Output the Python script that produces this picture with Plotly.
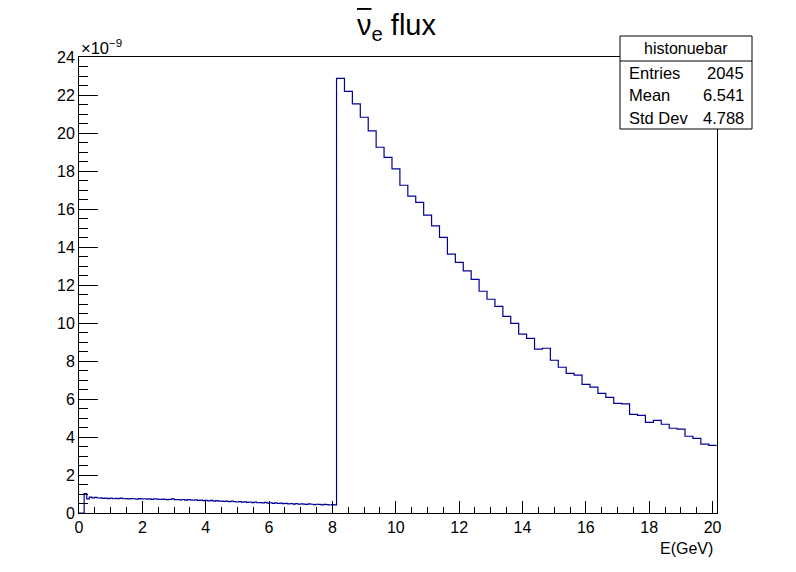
import numpy as np
import plotly.graph_objects as go

# ---------------- data (flux in units of 1e-9) ----------------
low_range = (0.0, 8.13)          # GeV, fine-binned part
low_values = [
    0, 0, 1.02, 0.74, 0.84, 0.80, 0.82, 0.79, 0.80, 0.77,
    0.78, 0.76, 0.78, 0.75, 0.77, 0.76, 0.78, 0.75, 0.76, 0.74,
    0.76, 0.75, 0.73, 0.76, 0.74, 0.75, 0.73, 0.74, 0.72, 0.75,
    0.73, 0.71, 0.73, 0.72, 0.70, 0.72, 0.74, 0.70, 0.71, 0.69,
    0.71, 0.68, 0.70, 0.69, 0.67, 0.69, 0.66, 0.68, 0.65, 0.66,
    0.64, 0.66, 0.63, 0.65, 0.62, 0.63, 0.61, 0.63, 0.60, 0.62,
    0.60, 0.58, 0.60, 0.57, 0.59, 0.56, 0.58, 0.55, 0.57, 0.54,
    0.55, 0.53, 0.56, 0.52, 0.54, 0.51, 0.53, 0.50, 0.52, 0.49,
    0.51, 0.48, 0.50, 0.47, 0.49, 0.46, 0.48, 0.47, 0.45, 0.48,
    0.46, 0.44, 0.46, 0.45, 0.43, 0.45, 0.44, 0.42, 0.44, 0.43,
]
high_start = 8.13               # GeV
high_bin_width = 0.25           # GeV
high_values = [
    22.88, 22.19, 21.53, 20.83, 20.11, 19.25, 18.72, 18.11, 17.25, 16.68,
    16.35, 15.68, 15.11, 14.51, 13.63, 13.19, 12.74, 12.30, 11.67, 11.25,
    10.88, 10.35, 9.98, 9.41, 9.19, 8.63, 8.67, 8.04, 7.67, 7.35,
    7.26, 6.77, 6.63, 6.30, 6.09, 5.77, 5.74, 5.19, 5.14, 4.77,
    4.88, 4.67, 4.46, 4.41, 4.04, 3.93, 3.63, 3.56,
]
stats_name = "histonuebar"
stats_labels = ["Entries", "Mean", "Std Dev"]
stats_values = ["2045", "6.541", "4.788"]
x_max = 20.14
y_max = 24

# ---------------- build step outline ----------------
low_edges = np.linspace(low_range[0], low_range[1], len(low_values) + 1)
high_edges = high_start + high_bin_width * np.arange(len(high_values) + 1)
edges = np.concatenate([low_edges[:-1], high_edges])
vals = np.array(low_values + high_values, dtype=float)
ys = np.append(vals, vals[-1])

FONT = "Liberation Sans, Arial, Helvetica, sans-serif"
BLUE = "#000099"

fig = go.Figure()
fig.add_trace(go.Scatter(x=edges, y=ys, mode="lines", line_shape="hv",
                         line=dict(color=BLUE, width=1.2), hoverinfo="skip",
                         showlegend=False))

# page body has an 8px margin: work in screen px, shifted by OFF
OFF = 8
W, H = 796 - OFF, 572 - OFF
L, R, T, B = 79, 717, 57, 513          # screen px of the frame


def fx(p):
    return (p - L) / (R - L)


def fy(p):
    return (B - p) / (B - T)


fig.update_layout(
    width=W, height=H,
    margin=dict(l=L - OFF, r=W - (R - OFF), t=T - OFF, b=H - (B - OFF)),
    paper_bgcolor="white", plot_bgcolor="white",
    font=dict(family=FONT, size=16, color="black"),
    showlegend=False,
)
fig.update_xaxes(range=[0, x_max], showgrid=False, zeroline=False,
                 showline=True, linecolor="black", linewidth=1, mirror=True,
                 ticks="inside", ticklen=12, tickcolor="black", dtick=2, tick0=0,
                 tickfont=dict(size=16, family=FONT),
                 minor=dict(ticks="inside", ticklen=6, dtick=0.5, tickcolor="black"))
fig.update_yaxes(range=[0, y_max], showgrid=False, zeroline=False,
                 showline=True, linecolor="black", linewidth=1, mirror=True,
                 ticks="inside", ticklen=19, tickcolor="black", dtick=2, tick0=0,
                 tickfont=dict(size=16, family=FONT),
                 minor=dict(ticks="inside", ticklen=9, dtick=0.5, tickcolor="black"))

# title (overlined nu with subscript e)
fig.add_annotation(text='<span style="text-decoration:overline">ν</span><sub>e</sub> flux',
                   xref="paper", yref="paper",
                   x=fx(396), y=fy(26.5), xanchor="center", yanchor="middle",
                   showarrow=False, font=dict(size=29, family=FONT))
# exponent
fig.add_annotation(text="×10<sup>−9</sup>", xref="paper", yref="paper",
                   x=fx(79), y=fy(47), xanchor="left", yanchor="middle",
                   showarrow=False, font=dict(size=16.5, family=FONT))
# x title
fig.add_annotation(text="E(GeV)", xref="paper", yref="paper",
                   x=fx(715), y=fy(548), xanchor="right", yanchor="middle",
                   showarrow=False, font=dict(size=16, family=FONT))

# stats box
bx0, bx1, by0, by1 = 620, 752, 36, 129
fig.add_shape(type="rect", xref="paper", yref="paper",
              x0=fx(bx0), x1=fx(bx1), y0=fy(by1), y1=fy(by0),
              fillcolor="white", line=dict(color="black", width=1), layer="above")
fig.add_shape(type="line", xref="paper", yref="paper",
              x0=fx(bx0), x1=fx(bx1), y0=fy(61), y1=fy(61),
              line=dict(color="black", width=1), layer="above")
fig.add_annotation(text=stats_name, xref="paper", yref="paper",
                   x=fx((bx0 + bx1) / 2), y=fy(48.5), xanchor="center",
                   yanchor="middle", showarrow=False, font=dict(size=16, family=FONT))
for i, (lab, val) in enumerate(zip(stats_labels, stats_values)):
    yy = fy(73 + 22.5 * i)
    fig.add_annotation(text=lab, xref="paper", yref="paper", x=fx(627), y=yy,
                       xanchor="left", yanchor="middle", showarrow=False,
                       font=dict(size=16.5, family=FONT))
    fig.add_annotation(text=val, xref="paper", yref="paper", x=fx(746), y=yy,
                       xanchor="right", yanchor="middle", showarrow=False,
                       font=dict(size=16.5, family=FONT))

fig.write_html("out.html")
